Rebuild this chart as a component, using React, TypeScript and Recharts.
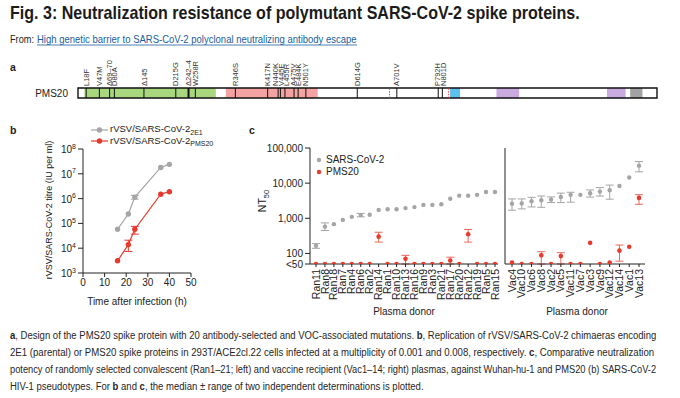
import React, { useLayoutEffect, useRef, useState } from 'react'
import {
  ComposedChart,
  LineChart,
  Line,
  Scatter,
  XAxis,
  YAxis,
  ReferenceArea,
  ReferenceLine,
  ErrorBar,
  Legend
} from 'recharts'

const FONT = '"Liberation Sans", Arial, sans-serif'
const GREY = '#a5a5a5'
const RED = '#e8392d'
const INK = '#222'

// ---- panel a: spike map ----
const SPIKE_LENGTH = 1273
const domainStart = [14, 325, 818, 920, 1163, 1214]
const domainEnd = [303, 527, 840, 970, 1204, 1241]
const domainColors = ['#a8d77e', '#f5a3a2', '#5cc1ee', '#c9abe0', '#c9abe0', '#a2a2a2']
const mutationNames = [
  'L18F', 'V47M', 'Δ69–70', 'D80A', 'Δ145', 'D215G', 'Δ242–4', 'W258R',
  'R346S', 'K417N', 'N440K', 'V445E', 'L455R', 'A475V', 'E484K', 'N501Y',
  'D614G', 'A701V', 'P792H', 'N801D'
]
const mutationPos = [18, 47, 69.5, 80, 145, 215, 243, 258, 346, 417, 440, 445, 455, 475, 484, 501, 614, 701, 792, 801]
const cleavageSites = [685, 815]

// ---- panel b: replication ----
const hours = [16, 21, 24, 36, 40]
const titre2E1 = [5.8e4, 2.4e5, 1.15e6, 1.8e7, 2.4e7]
const range2E1: ([number, number] | null)[] = [null, null, [0.95e6, 1.35e6], null, null]
const titrePMS20 = [3.1e3, 1.4e4, 5.8e4, 1.5e6, 1.9e6]
const rangePMS20: ([number, number] | null)[] = [null, [7.4e3, 2.1e4], [3.7e4, 7.6e4], null, null]

// ---- panel c: neutralization ----
const ranDonors = ['Ran11', 'Ran8', 'Ran18', 'Ran7', 'Ran4', 'Ran6', 'Ran2', 'Ran14', 'Ran1', 'Ran10', 'Ran13',
  'Ran16', 'Ran9', 'Ran3', 'Ran21', 'Ran17', 'Ran20', 'Ran12', 'Ran19', 'Ran5', 'Ran15']
const ranSars = [165, 580, 680, 900, 1100, 1230, 1260, 1730, 1800, 1800, 1950, 2080, 2400, 2400, 2500, 3600, 4400, 4400, 4650, 5600, 5600]
const ranSarsRange: ([number, number] | null)[] = [[140, 190], [450, 740], null, null, null, [1100, 1380], null, null, null, null, null,
  null, null, null, null, null, null, null, null, null, null]
const ranPms = [50, 50, 50, 50, 50, 50, 50, 300, 50, 50, 70, 50, 50, 50, 50, 63, 50, 350, 50, 50, 50]
const ranPmsRange: ([number, number] | null)[] = [null, null, null, null, null, null, null, [210, 400], null, null, [50, 88],
  null, null, null, null, [50, 78], null, [210, 480], null, null, null]

const vacDonors = ['Vac4', 'Vac10', 'Vac6', 'Vac8', 'Vac2', 'Vac5', 'Vac11', 'Vac7', 'Vac3', 'Vac9', 'Vac12', 'Vac14', 'Vac1', 'Vac13']
const vacSars = [2600, 2650, 3050, 3250, 3400, 4050, 4650, 4650, 5150, 5750, 6300, 8300, 14500, 31500]
const vacSarsRange: ([number, number] | null)[] = [[1700, 3550], [1850, 3550], [2100, 3950], [2050, 4300], [2800, 4050], [2800, 5200],
  [2870, 5500], null, [4000, 6400], [4300, 7450], [3500, 8800], null, null, [21000, 41000]]
const vacPms = [55, 50, 50, 88, 50, 84, 50, 50, 200, 50, 55, 120, 155, 3800]
const vacPmsRange: ([number, number] | null)[] = [null, null, null, [50, 112], null, [50, 105], null, null, null, null, null,
  [60, 173], null, [2500, 4700]]

const ntTicks = [50, 100, 1000, 10000, 100000]
const titreTicks = [1e3, 1e4, 1e5, 1e6, 1e7, 1e8]

// error bars in recharts want [down, up] deltas
const toDelta = (v: number, r: [number, number] | null) => (r ? [v - r[0], r[1] - v] : null)

// spread labels that would collide, keeping clusters centred
function spreadLabels(pos: number[], gap: number) {
  let groups = pos.map(p => ({ items: [p], c: p }))
  let merged = true
  while (merged) {
    merged = false
    for (let i = 0; i < groups.length - 1; i++) {
      const a = groups[i]
      const b = groups[i + 1]
      const aEnd = a.c + ((a.items.length - 1) * gap) / 2
      const bStart = b.c - ((b.items.length - 1) * gap) / 2
      if (bStart - aEnd < gap) {
        const items = [...a.items, ...b.items]
        const c = items.reduce((s, v) => s + v, 0) / items.length
        groups.splice(i, 2, { items, c })
        merged = true
        break
      }
    }
  }
  const out: number[] = []
  groups.forEach(g => {
    const n = g.items.length
    g.items.forEach((_, k) => out.push(g.c + (k - (n - 1) / 2) * gap))
  })
  return out
}

// svg text squeezed horizontally to a target width (the source uses a condensed face)
function FitText({ x, y, width, children, ...rest }: any) {
  const ref = useRef<SVGTextElement>(null)
  const [k, setK] = useState(1)
  useLayoutEffect(() => {
    if (ref.current) {
      const w = ref.current.getComputedTextLength()
      if (w > 0) setK(width / w)
    }
  }, [width])
  return (
    <text ref={ref} x={0} y={0} transform={`translate(${x} ${y}) scale(${k} 1)`} {...rest}>
      {children}
    </text>
  )
}

const MutationLabel = ({ cx, cy, payload }: any) => (
  <text
    x={cx}
    y={cy - 2}
    transform={`rotate(-90 ${cx} ${cy - 2})`}
    dy={2.6}
    fontSize={7.5}
    fill='#333'
    fontFamily={FONT}
  >
    {payload.name}
  </text>
)

function SpikeMap() {
  const labelX = spreadLabels(mutationPos, 11.8)
  const labelData = mutationNames.map((name, i) => ({ x: labelX[i], y: 1, name }))
  return (
    <ComposedChart width={680} height={50} margin={{ top: 33, right: 23, bottom: 7, left: 78 }}>
      <XAxis type='number' dataKey='x' domain={[0, SPIKE_LENGTH]} hide />
      <YAxis type='number' dataKey='y' domain={[0, 1]} hide />
      {domainStart.map((s, i) => (
        <ReferenceArea key={'d' + i} x1={s} x2={domainEnd[i]} y1={0} y2={1} fill={domainColors[i]} fillOpacity={1} stroke='none' />
      ))}
      {cleavageSites.map(c => (
        <ReferenceLine key={'c' + c} x={c} stroke={RED} strokeWidth={1} strokeDasharray='1.5 1.2' />
      ))}
      {mutationPos.map((p, i) => (
        <ReferenceLine key={'m' + i} x={p} stroke='#111' strokeWidth={mutationNames[i] === 'Δ242–4' ? 2 : 1} />
      ))}
      <ReferenceArea x1={0} x2={SPIKE_LENGTH} y1={0} y2={1} fill='none' stroke='#111' strokeWidth={1.4} />
      <Scatter data={labelData} shape={<MutationLabel />} isAnimationActive={false} />
    </ComposedChart>
  )
}

const PowTick = ({ x, y, payload }: any) => {
  const exp = Math.round(Math.log10(payload.value))
  return (
    <text x={x} y={y} dy={4} textAnchor='end' fontSize={10} fill={INK} fontFamily={FONT}>
      10<tspan dy={-4.5} fontSize={7}>{exp}</tspan>
    </text>
  )
}

const NtTick = ({ x, y, payload }: any) => (
  <text x={x} y={y} dy={3.5} textAnchor='end' fontSize={10} fill={INK} fontFamily={FONT}>
    {payload.value === 50 ? '<50' : payload.value.toLocaleString('en-US')}
  </text>
)

const DonorTick = ({ x, y, payload }: any) => (
  <text x={x} y={y} transform={`rotate(-90 ${x} ${y})`} dy={3.6} textAnchor='end' fontSize={10.5} fill={INK} fontFamily={FONT}>
    {payload.value}
  </text>
)

const sub = { fontSize: 7, position: 'relative' as const, top: 2.5 }

const TitreLegend = () => (
  <div style={{ fontFamily: FONT, fontSize: 9.5, color: INK, lineHeight: '10.5px' }}>
    {[
      { c: GREY, s: '2E1' },
      { c: RED, s: 'PMS20' }
    ].map(r => (
      <div key={r.s} style={{ display: 'flex', alignItems: 'center', whiteSpace: 'nowrap' }}>
        <svg width={17} height={10} style={{ marginRight: 2 }}>
          <line x1={0} x2={17} y1={5} y2={5} stroke={r.c} strokeWidth={1.2} />
          <circle cx={8.5} cy={5} r={2.7} fill={r.c} />
        </svg>
        <span>
          rVSV/SARS-CoV-2<span style={sub}>{r.s}</span>
        </span>
      </div>
    ))}
  </div>
)

const NtLegend = () => (
  <div style={{ fontFamily: FONT, fontSize: 10, color: INK, lineHeight: '12px' }}>
    {[
      { c: GREY, t: 'SARS-CoV-2' },
      { c: RED, t: 'PMS20' }
    ].map(r => (
      <div key={r.t} style={{ display: 'flex', alignItems: 'center', whiteSpace: 'nowrap' }}>
        <svg width={7} height={10} style={{ marginRight: 3 }}>
          <circle cx={3} cy={5} r={2.2} fill={r.c} />
        </svg>
        {r.t}
      </div>
    ))}
  </div>
)

function TitreChart() {
  const data = hours.map((h, i) => ({
    h,
    e1: titre2E1[i],
    e1Err: toDelta(titre2E1[i], range2E1[i]),
    pms: titrePMS20[i],
    pmsErr: toDelta(titrePMS20[i], rangePMS20[i])
  }))
  return (
    <LineChart width={250} height={200} data={data} margin={{ top: 34, right: 59, bottom: 12, left: 0 }}>
      <XAxis
        dataKey='h'
        type='number'
        domain={[0, 50]}
        ticks={[0, 10, 20, 30, 40, 50]}
        interval={0}
        height={30}
        tickSize={4}
        tickMargin={2}
        tick={{ fontSize: 10, fill: INK, fontFamily: FONT }}
        axisLine={{ stroke: INK }}
        tickLine={{ stroke: INK }}
      />
      <YAxis
        scale='log'
        domain={[1e3, 1e8]}
        ticks={titreTicks}
        interval={0}
        allowDataOverflow
        width={83}
        tickSize={5}
        tickMargin={2}
        tick={<PowTick />}
        axisLine={{ stroke: INK }}
        tickLine={{ stroke: INK }}
      />
      {/* vertical + centred + middle keeps the legend from eating plot space */}
      <Legend
        layout='vertical'
        align='center'
        verticalAlign='middle'
        content={<TitreLegend />}
        wrapperStyle={{ top: 9, left: 91, width: 'auto', height: 'auto' }}
      />
      <Line dataKey='e1' stroke={GREY} strokeWidth={1.2} dot={{ r: 2.7, fill: GREY, stroke: 'none' }} isAnimationActive={false}>
        <ErrorBar dataKey='e1Err' width={4} stroke={GREY} strokeWidth={1} />
      </Line>
      <Line dataKey='pms' stroke={RED} strokeWidth={1.2} dot={{ r: 2.7, fill: RED, stroke: 'none' }} isAnimationActive={false}>
        <ErrorBar dataKey='pmsErr' width={4} stroke={RED} strokeWidth={1} />
      </Line>
    </LineChart>
  )
}

function NtChart({ donors, sars, sarsRange, pms, pmsRange, width, yWidth, right, padding, labels, legend }: any) {
  const data = donors.map((d: string, i: number) => ({
    donor: d,
    sars: sars[i],
    sarsErr: toDelta(sars[i], sarsRange[i]),
    pms: pms[i],
    pmsErr: toDelta(pms[i], pmsRange[i])
  }))
  return (
    <LineChart width={width} height={205} data={data} margin={{ top: 33, right, bottom: 0, left: 0 }}>
      <XAxis
        dataKey='donor'
        type='category'
        scale='point'
        padding={padding}
        interval={0}
        height={56}
        tickSize={3}
        tickMargin={2}
        tick={<DonorTick />}
        axisLine={{ stroke: INK }}
        tickLine={{ stroke: INK }}
      />
      <YAxis
        scale='log'
        domain={[50, 100000]}
        ticks={ntTicks}
        interval={0}
        allowDataOverflow
        width={yWidth}
        tickSize={5}
        tickMargin={2}
        tick={labels ? <NtTick /> : false}
        axisLine={{ stroke: INK }}
        tickLine={{ stroke: INK }}
      />
      {legend && (
        <Legend
          layout='vertical'
          align='center'
          verticalAlign='middle'
          content={<NtLegend />}
          wrapperStyle={{ top: 39, left: 66, width: 'auto', height: 'auto' }}
        />
      )}
      <Line dataKey='sars' stroke='none' dot={{ r: 2.2, fill: GREY, stroke: 'none' }} isAnimationActive={false}>
        <ErrorBar dataKey='sarsErr' width={4} stroke={GREY} strokeWidth={1} />
      </Line>
      <Line dataKey='pms' stroke='none' dot={{ r: 2.3, fill: RED, stroke: 'none' }} isAnimationActive={false}>
        <ErrorBar dataKey='pmsErr' width={4} stroke='#e9685a' strokeWidth={1} />
      </Line>
    </LineChart>
  )
}

export default function App() {
  return (
    <div style={{ position: 'absolute', left: 0, top: 0, width: 680, height: 398, background: '#fff', overflow: 'hidden' }}>
      <svg width={680} height={398} style={{ position: 'absolute', left: 0, top: 0 }} fontFamily={FONT} fill={INK}>
        <FitText x={10} y={19} width={570} fontSize={18} fontWeight='bold' fill='#1b1b1b'>
          Fig. 3: Neutralization resistance of polymutant SARS-CoV-2 spike proteins.
        </FitText>
        <FitText x={10} y={43} width={24} fontSize={10}>From:</FitText>
        <FitText x={37} y={43} width={320} fontSize={10} fill='#1a5e9a'>
          High genetic barrier to SARS-CoV-2 polyclonal neutralizing antibody escape
        </FitText>
        <line x1={37} x2={357} y1={45} y2={45} stroke='#1a5e9a' strokeWidth={0.8} />

        <text x={10} y={71} fontSize={10.5} fontWeight='bold'>a</text>
        <text x={68} y={96.5} fontSize={10} textAnchor='end'>PMS20</text>
        <text x={10} y={134} fontSize={10.5} fontWeight='bold'>b</text>
        <text x={249} y={134} fontSize={10.5} fontWeight='bold'>c</text>

        <text x={52} y={210} fontSize={9} textAnchor='middle' transform='rotate(-90 52 210)'>
          rVSV/SARS-CoV-2 titre (IU per ml)
        </text>
        <text x={137} y={305} fontSize={10} textAnchor='middle'>Time after infection (h)</text>
        <text x={266} y={201} fontSize={10.5} textAnchor='middle' transform='rotate(-90 266 201)'>
          NT<tspan fontSize={7.5} dy={2.5}>50</tspan>
        </text>
        <text x={404} y={315} fontSize={10} textAnchor='middle'>Plasma donor</text>
        <text x={577} y={315} fontSize={10} textAnchor='middle'>Plasma donor</text>

        <g fontSize={11.5} fill='#262626'>
          <FitText x={10} y={338.5} width={647}>
            <tspan fontWeight='bold'>a</tspan>, Design of the PMS20 spike protein with 20 antibody-selected and VOC-associated mutations. <tspan fontWeight='bold'>b</tspan>, Replication of rVSV/SARS-CoV-2 chimaeras encoding
          </FitText>
          <FitText x={10} y={355.5} width={645}>
            2E1 (parental) or PMS20 spike proteins in 293T/ACE2cl.22 cells infected at a multiplicity of 0.001 and 0.008, respectively. <tspan fontWeight='bold'>c</tspan>, Comparative neutralization
          </FitText>
          <FitText x={10} y={372.5} width={647}>
            potency of randomly selected convalescent (Ran1–21; left) and vaccine recipient (Vac1–14; right) plasmas, against Wuhan-hu-1 and PMS20 (b) SARS-CoV-2
          </FitText>
          <FitText x={10} y={389.5} width={414}>
            HIV-1 pseudotypes. For <tspan fontWeight='bold'>b</tspan> and <tspan fontWeight='bold'>c</tspan>, the median ± range of two independent determinations is plotted.
          </FitText>
        </g>
      </svg>

      <div style={{ position: 'absolute', left: 0, top: 55 }}>
        <SpikeMap />
      </div>
      <div style={{ position: 'absolute', left: 0, top: 115 }}>
        <TitreChart />
      </div>
      <div style={{ position: 'absolute', left: 250, top: 115 }}>
        <NtChart
          donors={ranDonors}
          sars={ranSars}
          sarsRange={ranSarsRange}
          pms={ranPms}
          pmsRange={ranPmsRange}
          width={250}
          yWidth={60}
          right={2}
          padding={{ left: 6, right: 3 }}
          labels
          legend
        />
      </div>
      <div style={{ position: 'absolute', left: 480, top: 115 }}>
        <NtChart
          donors={vacDonors}
          sars={vacSars}
          sarsRange={vacSarsRange}
          pms={vacPms}
          pmsRange={vacPmsRange}
          width={200}
          yWidth={25}
          right={35}
          padding={{ left: 7, right: 6 }}
        />
      </div>
    </div>
  )
}
